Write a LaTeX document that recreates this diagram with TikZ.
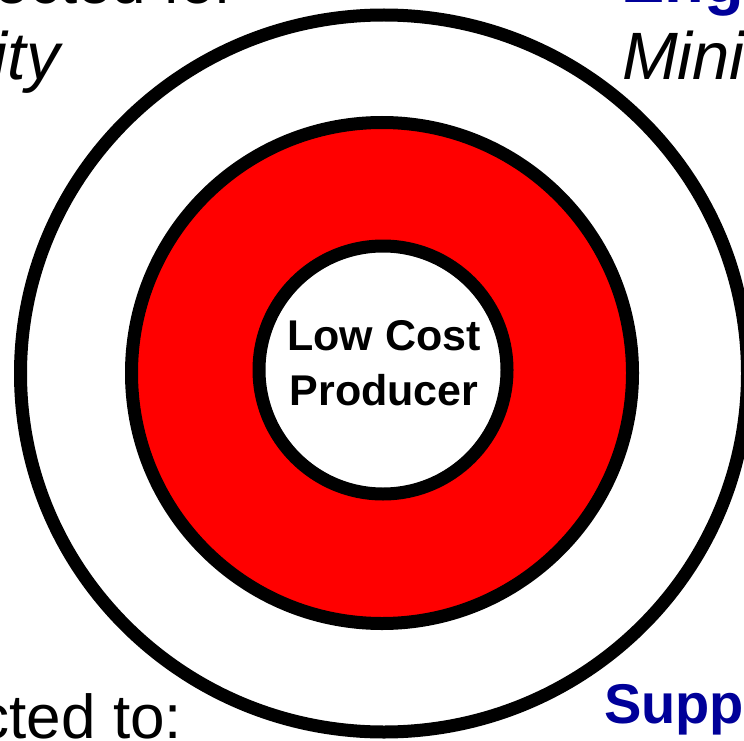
\documentclass[tikz,border=0pt]{standalone}
\usepackage{fontspec}
\setmainfont{Liberation Sans}
\usetikzlibrary{shapes.geometric}
\definecolor{navy}{RGB}{0,0,153}
\begin{document}
\begin{tikzpicture}[x=1pt,y=-1pt,
  ring/.style={draw=black,line width=13pt,inner sep=0pt},
  txt/.style={inner sep=0pt,outer sep=0pt},
  plain/.style={txt,font=\fontsize{62}{62}\selectfont},
  slant/.style={txt,font=\itshape\fontsize{67}{67}\selectfont},
  head/.style={txt,font=\bfseries\fontsize{56}{56}\selectfont,text=navy}]
\useasboundingbox (0,0) rectangle (744,741);
\clip (0,0) rectangle (744,741);
\node[ring,ellipse,minimum width=727pt,minimum height=717pt,fill=white] (outer) at (384,373.5) {};
\node[ring,circle,minimum size=501pt,fill=red] (middle) at (382,373) {};
\node[ring,circle,minimum size=248pt,fill=white] (inner) at (383,370) {};
\node[txt,align=center,font=\bfseries\fontsize{43}{55}\selectfont] (label) at (384,363.5) {Low Cost\\Producer};
\node[plain,anchor=base east] (tl1) at (236,4) {ected for};
\node[slant,anchor=base east] (tl2) at (60,80) {ity};
\node[head,font=\bfseries\fontsize{65}{65}\selectfont,anchor=base west] (tr1) at (621,3) {Eng};
\node[slant,anchor=base west] (tr2) at (622,80) {Mini};
\node[plain,anchor=base east] (bl) at (182,738) {cted to:};
\node[head,anchor=base west] (br) at (604,723) {Supp};
\end{tikzpicture}
\end{document}
